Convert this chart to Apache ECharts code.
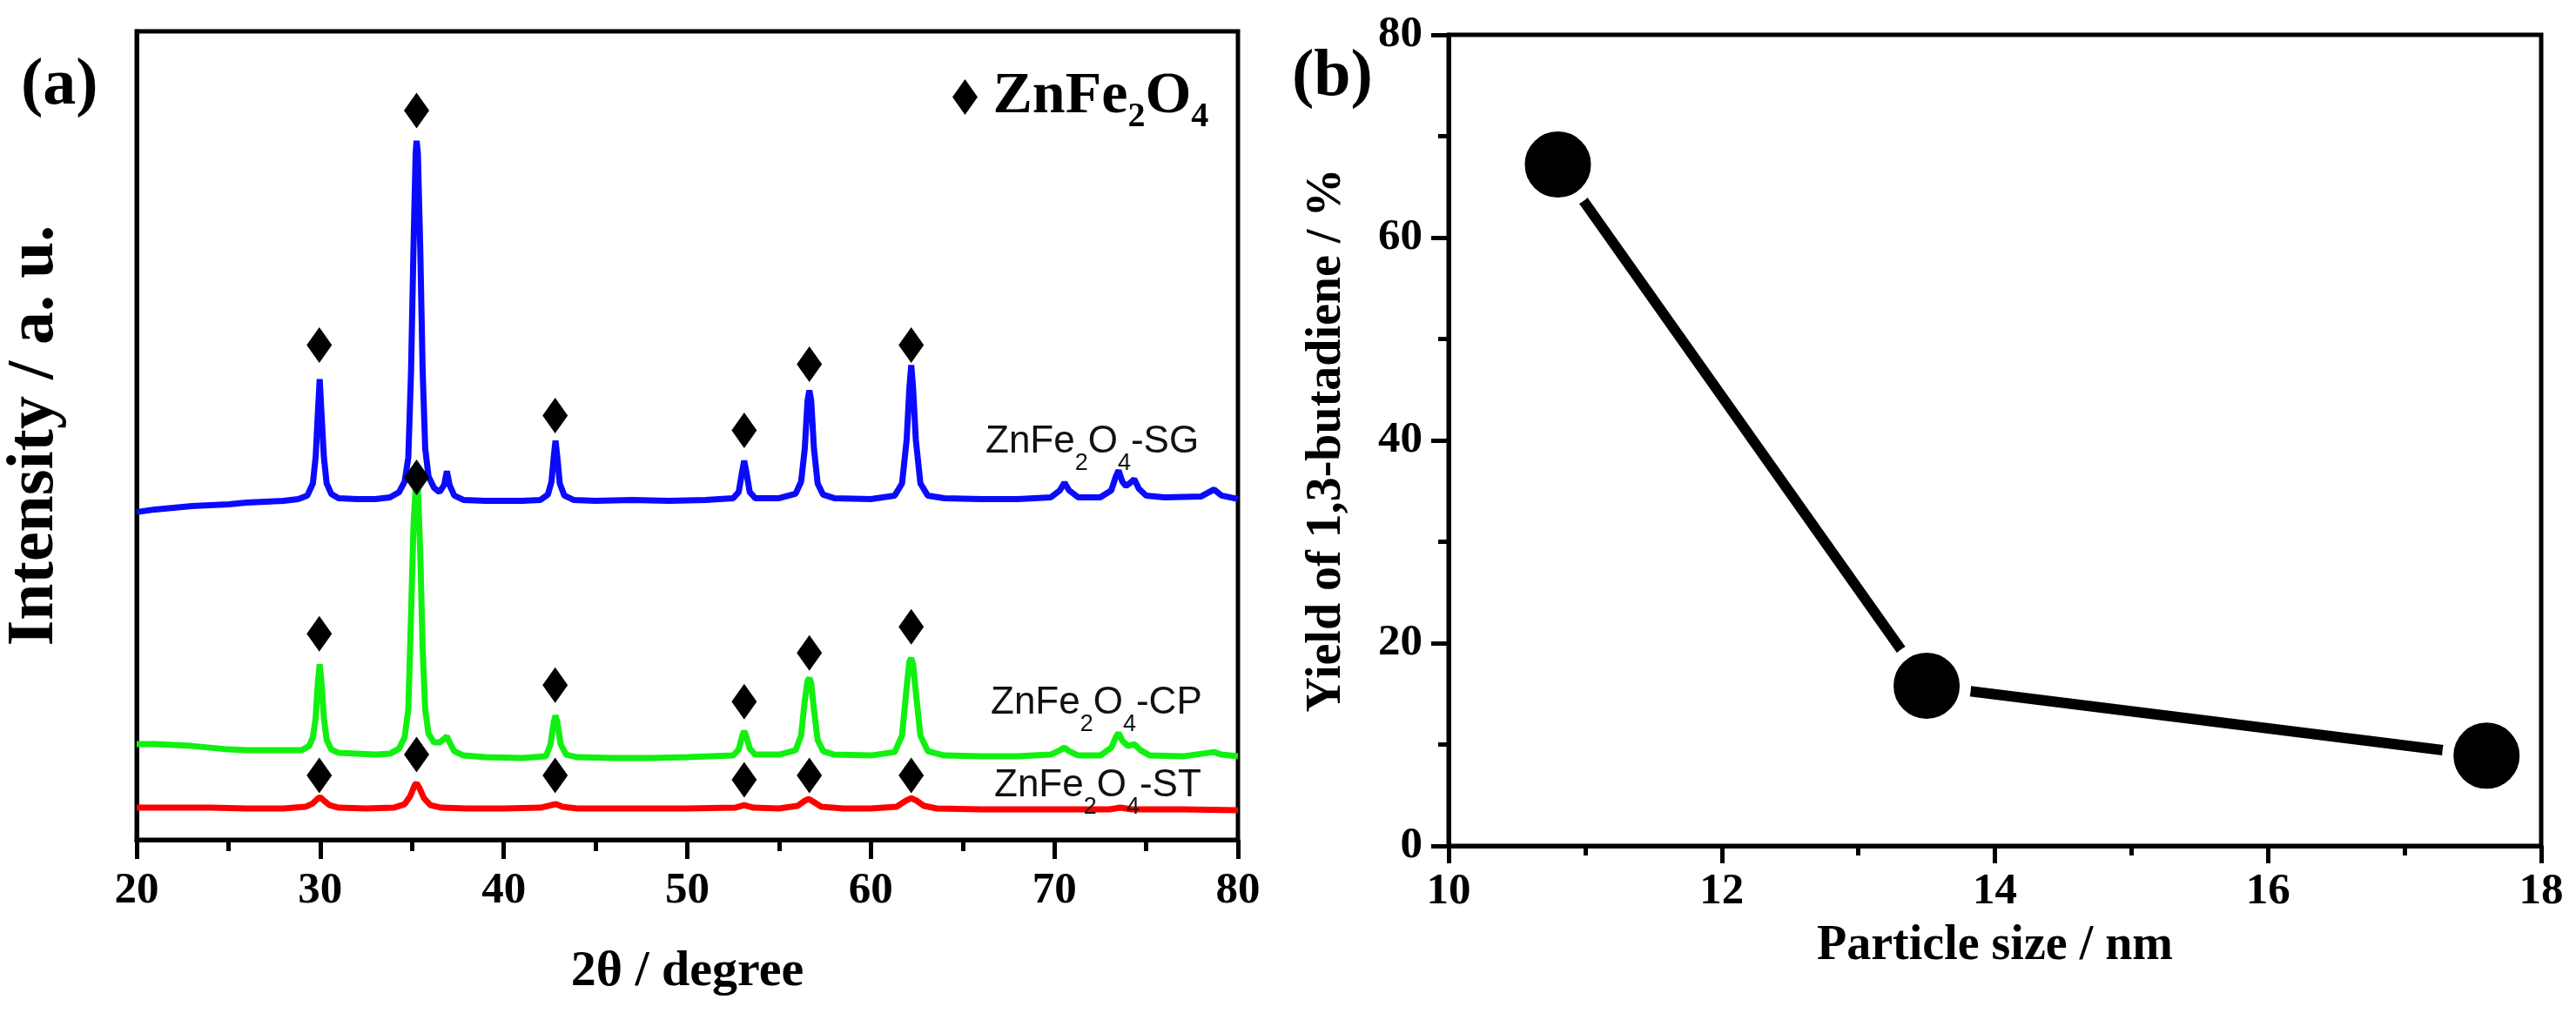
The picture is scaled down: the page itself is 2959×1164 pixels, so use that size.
<!DOCTYPE html>
<html>
<head>
<meta charset="utf-8">
<script src="https://cdn.jsdelivr.net/npm/echarts@6/dist/echarts.min.js"></script>
<style>
html,body{margin:0;padding:0;background:#fff;}
#c{width:2959px;height:1164px;}
</style>
</head>
<body>
<div id="c"></div>
<script>
// ---------- Panel (a): XRD patterns (2θ in degree, intensity in arbitrary units) ----------
const xrdSG = [[20,377],[21,380],[22,382],[23,384],[24,385],[25,386],[26,388],[27,389],[28,390],[28.8,392],[29.3,396],
 [29.6,410],[29.75,440],[29.87,490],[29.97,530],[30.07,490],[30.2,440],[30.35,410],[30.6,398],[31,393],[32,392],[33,392],
 [33.8,394],[34.3,400],[34.6,412],[34.8,440],[34.95,540],[35.08,680],[35.2,790],[35.25,804],[35.32,790],[35.45,680],[35.58,540],
 [35.72,450],[35.9,418],[36.2,405],[36.5,400],[36.75,408],[36.9,424],[37.05,408],[37.3,396],[37.8,391],[39,390],[40,390],[41,390],
 [42,391],[42.4,397],[42.6,412],[42.72,440],[42.82,459],[42.92,440],[43.05,410],[43.3,396],[43.8,391],[45,390],[47,391],[49,390],
 [51,391],[52.5,393],[52.8,400],[53.0,425],[53.1,436],[53.2,425],[53.4,400],[53.7,393],[55,393],[55.9,398],[56.2,412],[56.4,450],
 [56.55,505],[56.65,517],[56.75,505],[56.9,450],[57.1,410],[57.4,397],[58,393],[60,392],[61.3,396],[61.7,410],[61.95,460],[62.1,520],
 [62.2,546],[62.3,520],[62.45,460],[62.7,410],[63.1,396],[64,393],[66,392],[68,392],[69.8,394],[70.3,402],[70.55,411],[70.8,402],
 [71.3,394],[72.5,394],[73.1,402],[73.35,418],[73.5,425],[73.7,412],[73.9,407],[74.1,410],[74.35,415],[74.6,404],[75,396],[76,394],
 [78,395],[78.7,403],[79.1,396],[80,392]];

const xrdCP = [[20,110],[21,110],[22,109],[23,108],[24,106],[25,104],[26,103],[27,103],[28,103],[29,103],[29.4,108],
 [29.6,118],[29.75,140],[29.87,180],[29.97,202],[30.07,180],[30.2,140],[30.35,115],[30.6,104],[31,100],[32,99],[33,98],
 [33.8,99],[34.3,105],[34.6,118],[34.8,150],[34.95,260],[35.08,360],[35.2,405],[35.25,412],[35.32,405],[35.45,330],[35.58,220],
 [35.72,150],[35.9,122],[36.2,112],[36.5,112],[36.75,116],[36.9,119],[37.05,112],[37.3,102],[37.8,97],[39,95],[41,94],
 [42.3,96],[42.55,110],[42.72,135],[42.82,143],[42.92,135],[43.1,110],[43.4,98],[44,95],[46,94],[48,94],[50,95],
 [52.5,97],[52.8,104],[53.0,120],[53.1,125],[53.2,120],[53.4,105],[53.7,98],[55,98],[55.9,103],[56.2,120],[56.4,160],
 [56.55,183],[56.65,186],[56.75,180],[56.9,150],[57.1,115],[57.4,102],[58,98],[60,97],[61.3,101],[61.7,120],[61.95,175],
 [62.1,205],[62.2,209],[62.3,202],[62.45,170],[62.7,120],[63.1,102],[64,97],[66,96],[68,96],[69.8,98],[70.3,103],[70.55,106],
 [70.8,102],[71.3,97],[72.5,97],[73.1,106],[73.35,118],[73.5,123],[73.7,114],[74.0,108],[74.35,110],[74.7,103],[75.2,97],
 [77,96],[78.7,101],[79.1,98],[80,96]];

const xrdST = [[20,37],[22,37],[24,37],[26,36],[28,36],[29.2,38],[29.6,42],[29.9,48],[30.0,49],[30.2,45],[30.5,40],[31,37],
 [32.5,36],[34,37],[34.6,41],[34.9,50],[35.15,63],[35.25,65],[35.4,60],[35.65,48],[36,40],[36.6,37],[38,36],[40,36],[42,37],
 [42.6,40],[42.85,41],[43.2,38],[44,36],[46,36],[48,36],[50,36],[52.6,37],[53.1,40],[53.6,37],[55,36],[56.0,39],[56.4,45],
 [56.6,47],[56.85,44],[57.3,38],[58.5,36],[60,36],[61.4,38],[61.9,45],[62.2,48],[62.5,45],[62.9,39],[63.6,36],[66,35],[70,35],
 [73,35],[73.6,37],[74.2,35],[77,35],[80,34]];

// ZnFe2O4 reflection markers (♦)
const diamondX  = [29.95, 35.25, 42.8, 53.1, 56.65, 62.2];
const diamondSG = [569, 839, 488, 471, 547, 569];
const diamondCP = [237, 417, 178, 159, 215, 245];
const diamondST = [74, 98, 74, 69, 74, 74];

// ---------- Panel (b) ----------
const particleSize = [10.8, 13.5, 17.6];
const butadieneYield = [67.2, 15.8, 8.9];

const xTicksA = [20, 80, 10];   // min, max, interval
const yTicksB = [0, 80, 20];
const xTicksB = [10, 18, 2];

// ---------- build ----------
const SERIF = 'Liberation Serif';
const SANS = 'Liberation Sans';
const diamonds = [];
[diamondSG, diamondCP, diamondST].forEach(arr => arr.forEach((v, i) => diamonds.push([diamondX[i], v])));
const curveB = particleSize.map((x, i) => [x, butadieneYield[i]]);

const labelRich = {
  m: {fontFamily: SANS, fontSize: 44, lineHeight: 44, color: '#111'},
  s: {fontFamily: SANS, fontSize: 27, lineHeight: 44, padding: [50, 0, 0, 0], color: '#111'}
};
function curveLabel(suffix, left, top) {
  return {text: '{m|ZnFe}{s|2}{m|O}{s|4}{m|-' + suffix + '}', left: left, top: top, padding: 0,
    textStyle: {fontFamily: SANS, fontSize: 44, lineHeight: 44, fontWeight: 'normal', rich: labelRich}};
}
const panelStyle = {fontFamily: SERIF, fontWeight: 'bold', fontSize: 76, lineHeight: 76, color: '#000'};

const axisLine = {show: true, onZero: false, lineStyle: {color: '#000', width: 5}};
function tick(len) { return {show: true, length: len, lineStyle: {color: '#000', width: 5}}; }
function minor(len) { return {show: true, splitNumber: 2, length: len, lineStyle: {color: '#000', width: 5}}; }
function lbl(margin) { return {margin: margin, fontFamily: SERIF, fontWeight: 'bold', fontSize: 51, color: '#000'}; }
function nameStyle(size) { return {fontFamily: SERIF, fontWeight: 'bold', fontSize: size, lineHeight: size, color: '#000'}; }

const option = {
  backgroundColor: '#fff',
  animation: false,
  textStyle: {fontFamily: SERIF},
  title: [
    {text: '(a)', left: 24, top: 61, padding: 0, textStyle: panelStyle},
    {text: '(b)', left: 1484, top: 51, padding: 0, textStyle: panelStyle},
    curveLabel('SG', 1132, 486),
    curveLabel('CP', 1138, 786),
    curveLabel('ST', 1142, 881)
  ],
  legend: {
    data: ['ZnFe2O4'], left: 1094, top: 68, padding: 0, icon: 'diamond',
    itemWidth: 29, itemHeight: 41, selectedMode: false,
    formatter: () => '{g| }{m|ZnFe}{s|2}{m|O}{s|4}',
    textStyle: {
      color: '#000', fontFamily: SERIF, fontWeight: 'bold', fontSize: 68, lineHeight: 68,
      rich: {
        g: {fontFamily: SERIF, fontSize: 50, lineHeight: 68},
        m: {fontFamily: SERIF, fontWeight: 'bold', fontSize: 68, lineHeight: 68, color: '#000'},
        s: {fontFamily: SERIF, fontWeight: 'bold', fontSize: 40, lineHeight: 68, padding: [47, 0, 0, 0], color: '#000'}
      }
    }
  },
  grid: [
    {left: 157, top: 36, width: 1265, height: 929, show: true, borderColor: '#000', borderWidth: 5, containLabel: false},
    {left: 1664, top: 40, width: 1255, height: 932, show: true, borderColor: '#000', borderWidth: 5, containLabel: false}
  ],
  xAxis: [
    {gridIndex: 0, type: 'value', min: xTicksA[0], max: xTicksA[1], interval: xTicksA[2],
     axisLine: axisLine, axisTick: tick(22), minorTick: minor(13), splitLine: {show: false}, minorSplitLine: {show: false},
     axisLabel: lbl(33), name: '2θ / degree', nameLocation: 'middle', nameGap: 123, nameTextStyle: nameStyle(58)},
    {gridIndex: 1, type: 'value', min: xTicksB[0], max: xTicksB[1], interval: xTicksB[2],
     axisLine: axisLine, axisTick: tick(20), minorTick: minor(11), splitLine: {show: false}, minorSplitLine: {show: false},
     axisLabel: lbl(27), name: 'Particle size / nm', nameLocation: 'middle', nameGap: 88, nameTextStyle: nameStyle(56)}
  ],
  yAxis: [
    {gridIndex: 0, type: 'value', min: 0, max: 930,
     axisLine: axisLine, axisTick: {show: false}, axisLabel: {show: false}, splitLine: {show: false},
     name: 'Intensity / a. u.', nameLocation: 'middle', nameGap: 79, nameTextStyle: nameStyle(76)},
    {gridIndex: 1, type: 'value', min: yTicksB[0], max: yTicksB[1], interval: yTicksB[2],
     axisLine: axisLine, axisTick: tick(20), minorTick: minor(12), splitLine: {show: false}, minorSplitLine: {show: false},
     axisLabel: lbl(30), name: 'Yield of 1,3-butadiene / %', nameLocation: 'middle', nameGap: 111, nameTextStyle: nameStyle(56)}
  ],
  series: [
    {name: 'ST', type: 'line', xAxisIndex: 0, yAxisIndex: 0, data: xrdST, showSymbol: false, symbol: 'none', silent: true,
     lineStyle: {color: '#ff0000', width: 7}, z: 2},
    {name: 'CP', type: 'line', xAxisIndex: 0, yAxisIndex: 0, data: xrdCP, showSymbol: false, symbol: 'none', silent: true,
     lineStyle: {color: '#11f011', width: 7}, z: 2},
    {name: 'SG', type: 'line', xAxisIndex: 0, yAxisIndex: 0, data: xrdSG, showSymbol: false, symbol: 'none', silent: true,
     lineStyle: {color: '#0a0aff', width: 7}, z: 2},
    {name: 'ZnFe2O4', type: 'scatter', xAxisIndex: 0, yAxisIndex: 0, data: diamonds, symbol: 'diamond',
     symbolSize: [29, 41], itemStyle: {color: '#000', opacity: 1}, z: 4, silent: true},
    {name: 'yield', type: 'line', xAxisIndex: 1, yAxisIndex: 1, data: curveB, symbol: 'circle', symbolSize: 89,
     itemStyle: {color: '#000', borderColor: '#fff', borderWidth: 13, opacity: 1},
     lineStyle: {color: '#000', width: 12, cap: 'round'}, z: 3, silent: true}
  ]
};
const chart = echarts.init(document.getElementById('c'));
chart.setOption(option);
</script>
</body>
</html>
